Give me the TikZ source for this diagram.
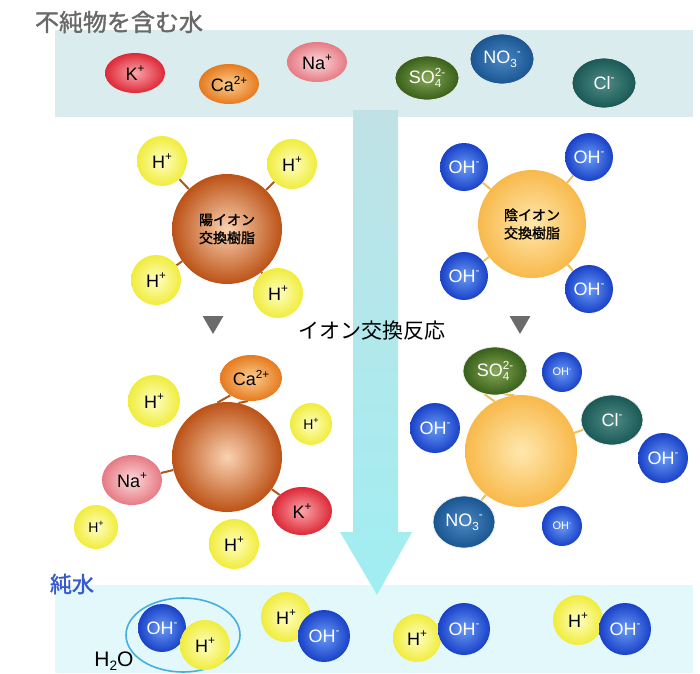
\documentclass[tikz,border=0pt]{standalone}
\usepackage{fontspec}
\setmainfont{Liberation Sans}
\newfontfamily\jp{Noto Sans CJK JP}
\newfontfamily\jpbold{Noto Sans CJK JP}[FakeBold=1.5]
\usetikzlibrary{shapes.geometric}

\definecolor{bandgray}{RGB}{218,236,238}
\definecolor{bandcyan}{RGB}{226,248,250}
\definecolor{arrowtop}{RGB}{192,226,230}
\definecolor{arrowbot}{RGB}{160,238,242}
\definecolor{hin}{RGB}{255,255,195}
\definecolor{hout}{RGB}{240,236,60}
\definecolor{ohin}{RGB}{105,155,245}
\definecolor{ohout}{RGB}{25,65,200}
\definecolor{kin}{RGB}{250,165,170}
\definecolor{kout}{RGB}{222,40,55}
\definecolor{cain}{RGB}{250,205,145}
\definecolor{caout}{RGB}{230,122,30}
\definecolor{nain}{RGB}{252,218,220}
\definecolor{naout}{RGB}{230,122,132}
\definecolor{soin}{RGB}{135,168,85}
\definecolor{soout}{RGB}{55,95,25}
\definecolor{noin}{RGB}{75,135,195}
\definecolor{noout}{RGB}{25,85,145}
\definecolor{clin}{RGB}{80,140,135}
\definecolor{clout}{RGB}{25,88,85}
\definecolor{cresin}{RGB}{250,210,178}
\definecolor{cresout}{RGB}{188,82,22}
\definecolor{aresin}{RGB}{255,232,175}
\definecolor{aresout}{RGB}{248,185,75}
\definecolor{titlegray}{RGB}{105,105,105}
\definecolor{pureblue}{RGB}{55,90,205}
\definecolor{ringblue}{RGB}{70,175,225}
\definecolor{cbondcol}{RGB}{172,88,32}
\definecolor{abondcol}{RGB}{236,192,95}

\pgfdeclarelayer{bands}
\pgfdeclarelayer{bonds}
\pgfsetlayers{bands,bonds,main}

% charge and index marks, scaled to the label font
\newcommand\ionup[1]{\raisebox{0.42em}{\scalebox{0.65}{#1}}}
\newcommand\iondn[1]{\raisebox{-0.22em}{\scalebox{0.65}{#1}}}

\begin{document}
\begin{tikzpicture}[
  x=1pt, y=-1pt,
  ion/.style={inner sep=0pt, font=\fontsize{18}{18}\selectfont},
  hion/.style={ion, circle, minimum size=50pt, inner color=hin, outer color=hout},
  ohion/.style={ion, circle, minimum size=50pt, inner color=ohin, outer color=ohout,
                text=white},
  kion/.style={ion, ellipse, minimum width=60pt, minimum height=40pt,
               inner color=kin, outer color=kout},
  caion/.style={ion, ellipse, minimum width=60pt, minimum height=40pt,
                inner color=cain, outer color=caout},
  naion/.style={ion, ellipse, minimum width=60pt, minimum height=40pt,
                inner color=nain, outer color=naout},
  soion/.style={ion, ellipse, minimum width=64pt, minimum height=44pt,
                inner color=soin, outer color=soout, text=white,
                draw=white!85!gray, line width=0.8pt},
  noion/.style={ion, ellipse, minimum width=64pt, minimum height=50pt,
                inner color=noin, outer color=noout, text=white,
                draw=white!85!gray, line width=0.8pt},
  clion/.style={ion, ellipse, minimum width=64pt, minimum height=50pt,
                inner color=clin, outer color=clout, text=white,
                draw=white!85!gray, line width=0.8pt},
  cresin/.style={circle, minimum size=110pt, inner sep=0pt, align=center,
                 inner color=cresin, outer color=cresout,
                 font=\jpbold\fontsize{14}{18}\selectfont},
  aresin/.style={circle, minimum size=108pt, inner sep=0pt, align=center,
                 inner color=aresin, outer color=aresout,
                 font=\jpbold\fontsize{14}{18}\selectfont},
  cbond/.style={line width=2pt, color=cbondcol},
  abond/.style={line width=2pt, color=abondcol},
  downtri/.style={regular polygon, regular polygon sides=3, shape border rotate=180,
                  minimum size=24pt, inner sep=0pt, fill=black!58},
  small/.style={font=\fontsize{14}{14}\selectfont},
  tiny/.style={font=\fontsize{11}{11}\selectfont},
]
\useasboundingbox (0,0) rectangle (700,673);

% water bands and the flow arrow
\begin{pgfonlayer}{bands}
  \fill[bandgray] (55,30) rectangle (693,117);
  \fill[bandcyan] (55,585) rectangle (693,673);
  \shade[top color=arrowtop, bottom color=arrowbot]
    (353,110) -- (398,110) -- (398,532) -- (412,532) -- (377,595)
    -- (340,532) -- (353,532) -- cycle;
\end{pgfonlayer}

% raw water
\node[font=\jpbold\fontsize{24}{24}\selectfont, text=titlegray] (raw) at (119,22)
  {不純物を含む水};
\node[kion]  (tK)  at (135,73) {K\ionup{+}};
\node[caion] (tCa) at (229,84) {Ca\ionup{2+}};
\node[naion] (tNa) at (317,62) {Na\ionup{+}};
\node[soion] (tSO) at (427,78) {SO\rlap{\iondn{4}}\ionup{2-}};
\node[noion] (tNO) at (502,59) {NO\iondn{3}\ionup{-}};
\node[clion] (tCl) at (604,83) {Cl\ionup{-}};

% cation resin with H+
\node[cresin] (cres) at (227,229) {陽イオン\\交換樹脂};
\node[hion] (ch1) at (162,161) {H\ionup{+}};
\node[hion] (ch2) at (292,164) {H\ionup{+}};
\node[hion] (ch3) at (156,280) {H\ionup{+}};
\node[hion] (ch4) at (278,293) {H\ionup{+}};

% anion resin with OH-
\node[aresin] (ares) at (532,224) {陰イオン\\交換樹脂};
\node[ohion, minimum size=48pt] (ah1) at (464,167) {OH\ionup{-}};
\node[ohion, minimum size=48pt] (ah2) at (589,157) {OH\ionup{-}};
\node[ohion, minimum size=48pt] (ah3) at (464,276) {OH\ionup{-}};
\node[ohion, minimum size=48pt] (ah4) at (589,289) {OH\ionup{-}};

\node[downtri] (tri1) at (213,322) {};
\node[downtri] (tri2) at (520,322) {};
\node[font=\jp\fontsize{21}{21}\selectfont] (react) at (372,331) {イオン交換反応};

% cation resin after exchange
\node[cresin] (cres2) at (227,457) {};
\node[caion, minimum width=62pt, minimum height=46pt] (cCa) at (251,378) {Ca\ionup{2+}};
\node[hion, minimum size=52pt] (cH1) at (154,401) {H\ionup{+}};
\node[hion, minimum size=42pt, small] (cH2) at (311,424) {H\ionup{+}};
\node[naion, minimum height=50pt] (cNa) at (132,480) {Na\ionup{+}};
\node[kion, minimum height=48pt] (cK) at (302,511) {K\ionup{+}};
\node[hion, minimum size=44pt, small] (cH3) at (96,527) {H\ionup{+}};
\node[hion] (cH4) at (234,544) {H\ionup{+}};

% anion resin after exchange
\node[aresin, minimum size=112pt] (ares2) at (521,451) {};
\node[soion, minimum height=48pt] (aSO) at (495,371) {SO\rlap{\iondn{4}}\ionup{2-}};
\node[ohion, minimum size=40pt, tiny] (aOH1) at (562,372) {OH\ionup{-}};
\node[ohion] (aOH2) at (435,428) {OH\ionup{-}};
\node[clion, minimum width=62pt] (aCl) at (612,420) {Cl\ionup{-}};
\node[ohion] (aOH3) at (663,458) {OH\ionup{-}};
\node[noion, minimum width=62pt, minimum height=52pt] (aNO) at (464,522) {NO\iondn{3}\ionup{-}};
\node[ohion, minimum size=40pt, tiny] (aOH4) at (562,526) {OH\ionup{-}};

% bonds
\begin{pgfonlayer}{bonds}
  \foreach \h in {ch1,ch2,ch3,ch4} \draw[cbond] (cres) -- (\h);
  \foreach \o in {ah1,ah2,ah3,ah4} \draw[abond] (ares) -- (\o);
  \draw[cbond] (cCa.220) -- (cres2.100);
  \draw[cbond] (cCa.262) -- (cres2.78);
  \draw[cbond] (cres2) -- (cNa);
  \draw[cbond] (cres2) -- (cK);
  \draw[abond] (aSO.245) -- (ares2.118);
  \draw[abond] (aSO.292) -- (ares2.97);
  \draw[abond] (ares2) -- (aCl);
  \draw[abond] (ares2) -- (aNO);
\end{pgfonlayer}

% pure water
\node[font=\jpbold\fontsize{22}{22}\selectfont, text=pureblue] (pure) at (72,584) {純水};
\node[ellipse, draw=ringblue, line width=1.6pt, minimum width=114pt,
      minimum height=74pt] (ring) at (183,635) {};
\node[ohion, minimum size=48pt] (w1o) at (162,628) {OH\ionup{-}};
\node[hion] (w1h) at (205,645) {H\ionup{+}};
\node[font=\fontsize{21}{21}\selectfont] (h2o) at (114,661) {H\iondn{2}O};
\node[hion] (w2h) at (286,617) {H\ionup{+}};
\node[ohion, minimum size=52pt] (w2o) at (324,636) {OH\ionup{-}};
\node[hion, minimum size=48pt] (w3h) at (417,638) {H\ionup{+}};
\node[ohion, minimum size=52pt] (w3o) at (464,629) {OH\ionup{-}};
\node[hion] (w4h) at (578,620) {H\ionup{+}};
\node[ohion, minimum size=52pt] (w4o) at (625,629) {OH\ionup{-}};
\end{tikzpicture}
\end{document}
